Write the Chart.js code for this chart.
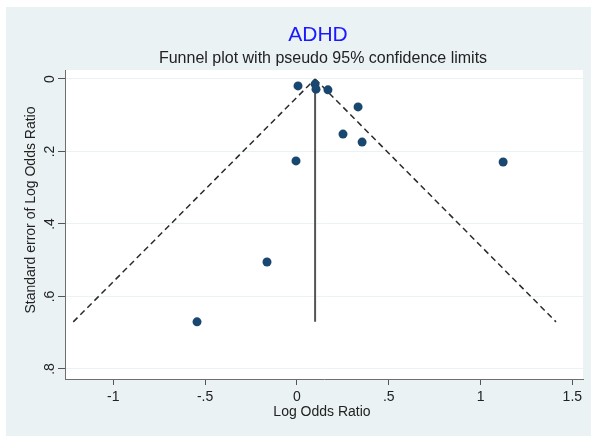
<!DOCTYPE html>
<html><head><meta charset="utf-8">
<script src="https://cdn.jsdelivr.net/npm/chart.js@4"></script>
<style>html,body{margin:0;padding:0;background:#fff;}canvas{display:block;}</style>
</head><body><canvas id="c" width="591" height="436"></canvas>
<script>
const titleText = "ADHD";
const subtitleText = "Funnel plot with pseudo 95% confidence limits";
const xAxisTitle = "Log Odds Ratio";
const yAxisTitle = "Standard error of Log Odds Ratio";
const xTicks = [-1, -0.5, 0, 0.5, 1, 1.5];
const yTicks = [0, 0.2, 0.4, 0.6, 0.8];
const logOddsRatio = [0.006, 0.099, 0.104, 0.169, 0.333, 0.251, 0.355, -0.005, -0.163, -0.544, 1.123];
const stdError     = [0.019, 0.014, 0.028, 0.030, 0.077, 0.152, 0.174, 0.226, 0.505, 0.670, 0.229];
const pooledEstimate = 0.099;
const maxStdError = 0.67;
const lowerLimitAtMax = -1.218;
const upperLimitAtMax = 1.411;

const FONT = '"Liberation Sans", Arial, sans-serif';
const fmt = v => String(Math.round(v * 10) / 10).replace(/^(-?)0\./, '$1.');

const points = logOddsRatio.map((x, i) => ({ x: x, y: stdError[i] }));
const leftLimit = [{ x: lowerLimitAtMax, y: maxStdError }, { x: pooledEstimate, y: 0 }];
const rightLimit = [{ x: pooledEstimate, y: 0 }, { x: upperLimitAtMax, y: maxStdError }];
const pooledLine = [{ x: pooledEstimate, y: 0 }, { x: pooledEstimate, y: maxStdError }];

const bgPlugin = {
  id: 'bg',
  beforeDraw(chart) {
    const { ctx, chartArea: a } = chart;
    ctx.save();
    ctx.fillStyle = '#ffffff';
    ctx.fillRect(0, 0, chart.width, chart.height);
    ctx.fillStyle = '#eaf2f3';
    ctx.fillRect(6, 7, chart.width - 6, chart.height - 7);
    ctx.fillStyle = '#ffffff';
    ctx.fillRect(a.left, a.top, a.right - a.left, a.bottom - a.top);
    ctx.restore();
  },
  afterDraw(chart) {
    const ctx = chart.ctx;
    ctx.save();
    ctx.textAlign = 'center';
    ctx.textBaseline = 'middle';
    ctx.fillStyle = '#1a1aff';
    ctx.font = '21px ' + FONT;
    ctx.fillText(titleText, 318, 35);
    ctx.fillStyle = '#222';
    ctx.font = '16px ' + FONT;
    ctx.fillText(subtitleText, 323, 59);
    ctx.font = '14px ' + FONT;
    ctx.fillText(xAxisTitle, 322, 412);
    ctx.translate(31, 210);
    ctx.rotate(-Math.PI / 2);
    ctx.fillText(yAxisTitle, 0, 0);
    ctx.restore();
  }
};

new Chart(document.getElementById('c'), {
  type: 'scatter',
  data: {
    datasets: [
      { data: points, order: 0, backgroundColor: '#1a476f', borderColor: '#1a476f', pointRadius: 4.5, borderWidth: 0 },
      { type: 'line', data: leftLimit, order: 1, borderColor: '#2a2a2a', borderWidth: 1.5, borderDash: [6, 4], pointRadius: 0, fill: false },
      { type: 'line', data: rightLimit, order: 1, borderColor: '#2a2a2a', borderWidth: 1.5, borderDash: [6, 4], pointRadius: 0, fill: false },
      { type: 'line', data: pooledLine, order: 1, borderColor: '#555', borderWidth: 2, pointRadius: 0, fill: false }
    ]
  },
  options: {
    responsive: false,
    animation: false,
    layout: { padding: { top: 70, right: 8, left: 0, bottom: 0 } },
    plugins: { legend: { display: false }, tooltip: { enabled: false }, title: { display: false } },
    scales: {
      x: {
        type: 'linear', min: -1.263, max: 1.558,
        afterBuildTicks: s => { s.ticks = xTicks.map(v => ({ value: v })); },
        afterFit: s => { s.height = 57; },
        border: { color: '#6f6f6f', width: 1 },
        grid: { drawOnChartArea: false, tickLength: 6, tickColor: '#555' },
        ticks: { padding: 4, color: '#222', font: { family: FONT, size: 14 }, callback: v => fmt(v), maxRotation: 0 }
      },
      y: {
        type: 'linear', reverse: true, min: -0.0248, max: 0.8276,
        afterBuildTicks: s => { s.ticks = yTicks.map(v => ({ value: v })); },
        afterFit: s => { s.width = 65; },
        border: { color: '#6f6f6f', width: 1 },
        grid: { color: '#eaf2f3', lineWidth: 1, tickLength: 7, tickColor: '#555' },
        ticks: { padding: 2, minRotation: 90, maxRotation: 90, crossAlign: 'center', color: '#222', font: { family: FONT, size: 14 }, callback: v => fmt(v) }
      }
    }
  },
  plugins: [bgPlugin]
});
</script>
</body></html>
